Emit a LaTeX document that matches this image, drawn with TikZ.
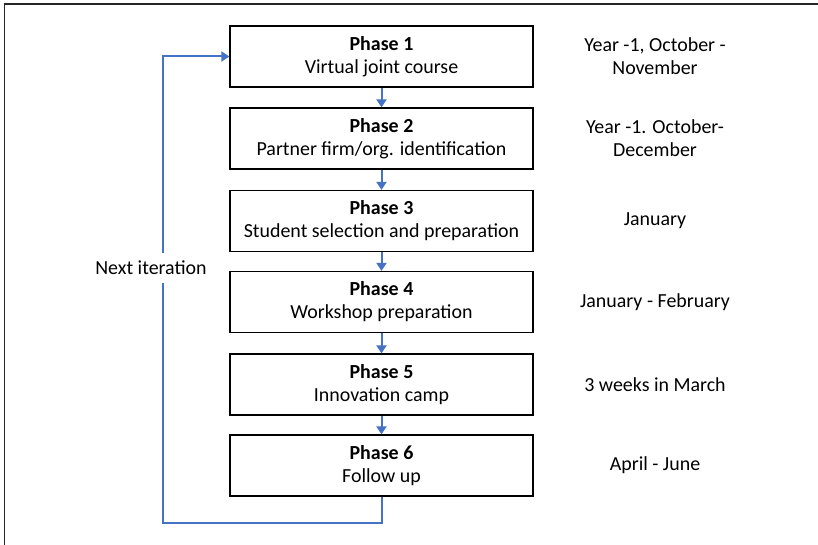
\documentclass[tikz,border=0pt]{standalone}
\usepackage{fontspec}
\setmainfont{Carlito}
\usetikzlibrary{arrows.meta}
\definecolor{arrblue}{HTML}{4472C4}
\tikzset{
  phasebox/.style={draw=black, line width=1.3bp, minimum width=303bp, minimum height=61bp, inner sep=0pt, align=center, font=\fontsize{20}{23}\selectfont},
  datetext/.style={align=center, inner sep=0pt, font=\fontsize{20}{23}\selectfont},
  flow/.style={draw=arrblue, line width=2bp, -{Triangle[length=8bp,width=10bp]}},
}
\begin{document}
\begin{tikzpicture}[x=1bp,y=-1bp]
\useasboundingbox (0,0) rectangle (818,545);
\draw[line width=1.3bp, black!85] (4.5,545) -- (4.5,4) -- (818,4);
\node[phasebox] (p1) at (381.5,56.5) {\textbf{Phase 1}\\Virtual joint course};
\node[phasebox] (p2) at (381.5,138.5) {\textbf{Phase 2}\\Partner firm/org. identification};
\node[phasebox] (p3) at (381.5,221) {\textbf{Phase 3}\\Student selection and preparation};
\node[phasebox] (p4) at (381.5,302) {\textbf{Phase 4}\\Workshop preparation};
\node[phasebox] (p5) at (381.5,384.5) {\textbf{Phase 5}\\Innovation camp};
\node[phasebox] (p6) at (381.5,465.5) {\textbf{Phase 6}\\Follow up};
\draw[flow] (p1) -- (p2);
\draw[flow] (p2) -- (p3);
\draw[flow] (p3) -- (p4);
\draw[flow] (p4) -- (p5);
\draw[flow] (p5) -- (p6);
\coordinate (c1) at (163,523);
\draw[flow] (p6.south) |- (c1) |- (p1.west);
\node[fill=white, inner xsep=2bp, inner ysep=8bp, font=\fontsize{20}{23}\selectfont] (ni) at (151,268) {Next iteration};
\node[datetext] (d1) at (655,56.5) {Year -1, October -\\November};
\node[datetext] (d2) at (655,138.5) {Year -1. October-\\December};
\node[datetext] (d3) at (655,221) {January};
\node[datetext] (d4) at (655,302) {January - February};
\node[datetext] (d5) at (655,384.5) {3 weeks in March};
\node[datetext] (d6) at (655,465.5) {April - June};
\end{tikzpicture}
\end{document}
